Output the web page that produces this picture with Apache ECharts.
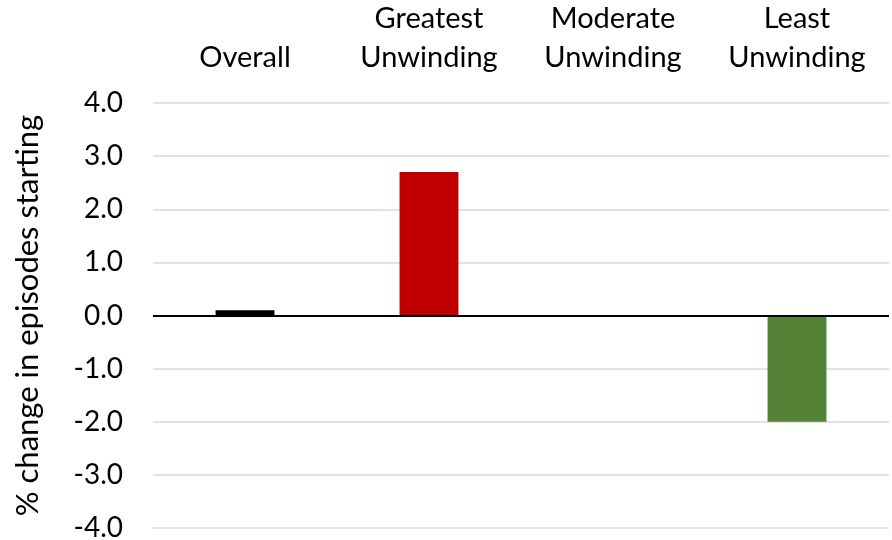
<!DOCTYPE html>
<html>
<head>
<meta charset="utf-8">
<script src="https://cdn.jsdelivr.net/npm/echarts@6/dist/echarts.min.js"></script>
<style>
  html, body { margin: 0; padding: 0; background: #ffffff; }
  #chart { width: 892px; height: 540px; }
</style>
</head>
<body>
<div id="chart"></div>
<script>
// Change in episodes starting, by unwinding group
const categories = ['Overall', 'Greatest\nUnwinding', 'Moderate\nUnwinding', 'Least\nUnwinding'];
const values = [0.1, 2.7, 0.0, -2.0];
const barColors = ['#000000', '#C00000', '#4472C4', '#548235'];
const yTicks = { min: -4, max: 4, interval: 1 };
const yTitle = '% change in episodes starting';

const FONT = 'Lato';
const chart = echarts.init(document.getElementById('chart'), null, { renderer: 'canvas' });

chart.setOption({
  animation: false,
  backgroundColor: '#ffffff',
  grid: { left: 153, right: 3, top: 103, bottom: 12, containLabel: false, outerBoundsMode: 'none' },
  xAxis: {
    type: 'category',
    position: 'top',
    data: categories,
    axisLine: { show: false },
    axisTick: { show: false },
    axisLabel: {
      interval: 0,
      margin: 26,
      color: '#000000',
      fontFamily: FONT,
      fontSize: 29,
      lineHeight: 39,
      align: 'center'
    }
  },
  yAxis: {
    type: 'value',
    min: yTicks.min,
    max: yTicks.max,
    interval: yTicks.interval,
    name: yTitle,
    nameLocation: 'middle',
    nameRotate: 90,
    nameGap: 110,
    nameTextStyle: { color: '#000000', fontFamily: FONT, fontSize: 31 },
    axisLine: { show: false },
    axisTick: { show: false },
    splitLine: { lineStyle: { color: '#d9d9d9', width: 1.5 } },
    axisLabel: {
      margin: 30,
      color: '#000000',
      fontFamily: FONT,
      fontSize: 28,
      formatter: v => v.toFixed(1)
    }
  },
  series: [{
    type: 'bar',
    barWidth: '32%',
    data: values.map((v, i) => ({ value: v, itemStyle: { color: barColors[i] } })),
    markLine: {
      silent: true,
      symbol: ['none', 'none'],
      label: { show: false },
      lineStyle: { color: '#000000', width: 2, type: 'solid' },
      data: [{ yAxis: 0 }]
    }
  }]
});
</script>
</body>
</html>
